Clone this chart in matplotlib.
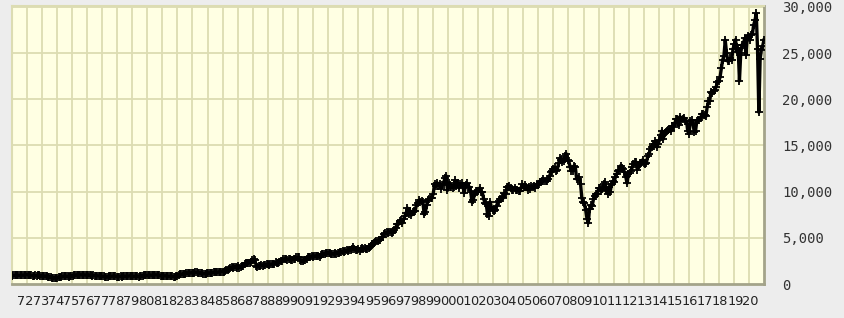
import numpy as np
import matplotlib
matplotlib.use("Agg")
import matplotlib.pyplot as plt
from matplotlib.ticker import FuncFormatter

# Monthly closes (approx.), Jan..Dec per year
first_year = 1972
dow_1970s = [
    902, 928, 940, 954, 960, 929, 925, 964, 953, 956, 1018, 1020,
    999, 955, 951, 921, 901, 892, 926, 888, 947, 956, 822, 851,
    856, 861, 847, 837, 802, 802, 757, 679, 608, 666, 619, 616,
    704, 739, 768, 821, 832, 879, 832, 835, 794, 836, 861, 852,
    975, 973, 1000, 997, 975, 1003, 985, 974, 990, 965, 947, 1005,
    954, 936, 920, 927, 899, 916, 891, 862, 847, 818, 830, 831,
    770, 742, 757, 837, 841, 819, 862, 877, 866, 793, 799, 805,
    839, 808, 862, 855, 822, 842, 846, 888, 878, 816, 822, 839,
]
dow_1980s = [
    876, 863, 786, 817, 851, 868, 935, 933, 932, 925, 993, 964,
    947, 975, 1004, 998, 992, 977, 953, 882, 850, 853, 889, 875,
    872, 824, 823, 848, 820, 812, 809, 901, 896, 992, 1039, 1047,
    1076, 1113, 1130, 1226, 1200, 1222, 1199, 1216, 1233, 1225, 1276, 1259,
    1221, 1155, 1165, 1171, 1105, 1132, 1115, 1224, 1207, 1207, 1189, 1212,
    1287, 1284, 1267, 1258, 1315, 1336, 1348, 1334, 1329, 1375, 1472, 1547,
    1571, 1709, 1819, 1784, 1877, 1893, 1775, 1898, 1768, 1878, 1914, 1896,
    2158, 2224, 2305, 2286, 2292, 2419, 2573, 2663, 2596, 1994, 1834, 1939,
    1958, 2072, 1988, 2032, 2031, 2142, 2129, 2032, 2113, 2149, 2115, 2169,
    2342, 2258, 2294, 2419, 2480, 2440, 2661, 2737, 2693, 2645, 2706, 2753,
]
dow_1990s = [
    2591, 2627, 2707, 2657, 2877, 2881, 2905, 2614, 2453, 2442, 2560, 2634,
    2736, 2882, 2914, 2888, 3028, 2907, 3025, 3044, 3017, 3069, 2895, 3169,
    3223, 3268, 3236, 3359, 3397, 3319, 3394, 3257, 3272, 3226, 3306, 3301,
    3310, 3371, 3435, 3428, 3527, 3516, 3540, 3651, 3555, 3681, 3684, 3754,
    3978, 3832, 3636, 3681, 3758, 3625, 3765, 3913, 3843, 3908, 3739, 3834,
    3844, 4011, 4158, 4321, 4465, 4556, 4709, 4611, 4789, 4756, 5075, 5117,
    5395, 5486, 5588, 5569, 5644, 5655, 5529, 5616, 5882, 6029, 6522, 6448,
    6813, 6878, 6584, 7009, 7331, 7673, 8223, 7622, 7945, 7442, 7823, 7908,
    7907, 8546, 8800, 9063, 8900, 8952, 8883, 7539, 7843, 8592, 9117, 9181,
    9359, 9307, 9786, 10789, 10560, 10971, 10655, 10829, 10337, 10730, 10878, 11497,
]
dow_2000s = [
    11700, 10128, 10922, 10734, 10522, 10448, 10522, 11215, 10651, 10971, 10415, 10787,
    10887, 10495, 9879, 10735, 10912, 10502, 10523, 9950, 8848, 9075, 9852, 10022,
    9920, 10106, 10404, 9946, 9925, 9243, 8737, 8664, 7592, 7400, 8896, 8342,
    8054, 7891, 7992, 8480, 8850, 8985, 9234, 9416, 9275, 9801, 9782, 10454,
    10488, 10584, 10358, 10226, 10188, 10435, 10140, 10174, 10080, 10027, 10428, 10783,
    10490, 10766, 10504, 10193, 10467, 10275, 10641, 10482, 10569, 10440, 10806, 10718,
    10865, 10993, 11109, 11367, 11168, 11150, 11186, 11381, 11679, 12081, 12222, 12463,
    12622, 12269, 12354, 13063, 13628, 13409, 13212, 13358, 13896, 14100, 13372, 13265,
    12650, 12266, 12263, 12820, 12638, 11350, 11378, 11544, 10851, 9325, 8829, 8776,
    8001, 7063, 6600, 8168, 8500, 8447, 9172, 9496, 9712, 9713, 10345, 10428,
]
dow_2010s = [
    10067, 10325, 10857, 11009, 10137, 9774, 10466, 10015, 10788, 11118, 11006, 11578,
    11892, 12226, 12320, 12811, 12570, 12414, 12143, 11614, 10913, 11955, 12046, 12218,
    12633, 12952, 13212, 13214, 12393, 12880, 13009, 13091, 13437, 13096, 13026, 13104,
    13861, 14054, 14579, 14840, 15116, 14910, 15500, 14810, 15130, 15546, 16086, 16577,
    15699, 16322, 16458, 16581, 16717, 16827, 16563, 17098, 17043, 17391, 17828, 17823,
    17165, 18133, 17776, 17841, 18011, 17620, 17690, 16528, 16285, 17664, 17720, 17425,
    16466, 16517, 17685, 17774, 17787, 17930, 18432, 18401, 18308, 18142, 19124, 19763,
    19864, 20812, 20663, 20941, 21009, 21350, 21891, 21948, 22405, 23377, 24272, 24719,
    26400, 25029, 24103, 24163, 24416, 24271, 25415, 25965, 26458, 25116, 25538, 22000,
    24999, 25916, 25929, 26593, 24815, 26600, 26864, 26403, 26917, 27046, 28051, 28538,
]
dow_2020 = [29300, 25409, 18600, 24346, 25383, 25813, 26428]

y_ticks = [0, 5000, 10000, 15000, 20000, 25000, 30000]
x_labels = [f"{y % 100:02d}" for y in range(1972, 2021)]

values = np.array(dow_1970s + dow_1980s + dow_1990s + dow_2000s + dow_2010s + dow_2020, dtype=float)
t = first_year + (np.arange(len(values)) + 0.5) / 12.0

fig = plt.figure(figsize=(8.45, 3.18), dpi=100, facecolor="#EDEDED")
ax = fig.add_axes([12 / 845, 1 - 284 / 318, 752 / 845, 278 / 318])
ax.set_facecolor("#FFFFE3")

ax.set_xlim(t[0], t[-1])
ax.set_ylim(0, 30100)

grid_c = "#DCDCB2"
for xv in np.linspace(t[0], t[-1], 51)[1:-1]:
    ax.axvline(xv, color=grid_c, lw=1.3, zorder=1)
for yv in y_ticks[1:]:
    ax.axhline(yv, color=grid_c, lw=1.3, zorder=1)

ax.plot(t, values, color="black", lw=2.4, zorder=3, solid_joinstyle="round")
ax.plot(t, values, ls="none", marker="+", ms=5.5, mew=1.3, color="black", zorder=3)

ax.set_xticks([])
ax.yaxis.tick_right()
ax.set_yticks(y_ticks)
ax.yaxis.set_major_formatter(FuncFormatter(lambda v, p: f"{int(v):,}"))
ax.tick_params(axis="y", length=0, pad=13, labelsize=10, labelcolor="#333333")
for lab in ax.get_yticklabels():
    lab.set_family("DejaVu Sans Mono")

for i, lab in enumerate(x_labels):
    ax.text((0.9 + i) / 49.8, -0.04, lab, transform=ax.transAxes,
            ha="center", va="top", fontsize=9.3, color="#222222",
            family=["Liberation Sans Narrow", "DejaVu Sans"])

for side in ["left", "top"]:
    ax.spines[side].set_color("#DCDCB2")
    ax.spines[side].set_linewidth(1.5)
for side in ["right", "bottom"]:
    ax.spines[side].set_color("#A3A38A")
    ax.spines[side].set_linewidth(2)

fig.savefig("out.png", dpi=100, facecolor=fig.get_facecolor())
